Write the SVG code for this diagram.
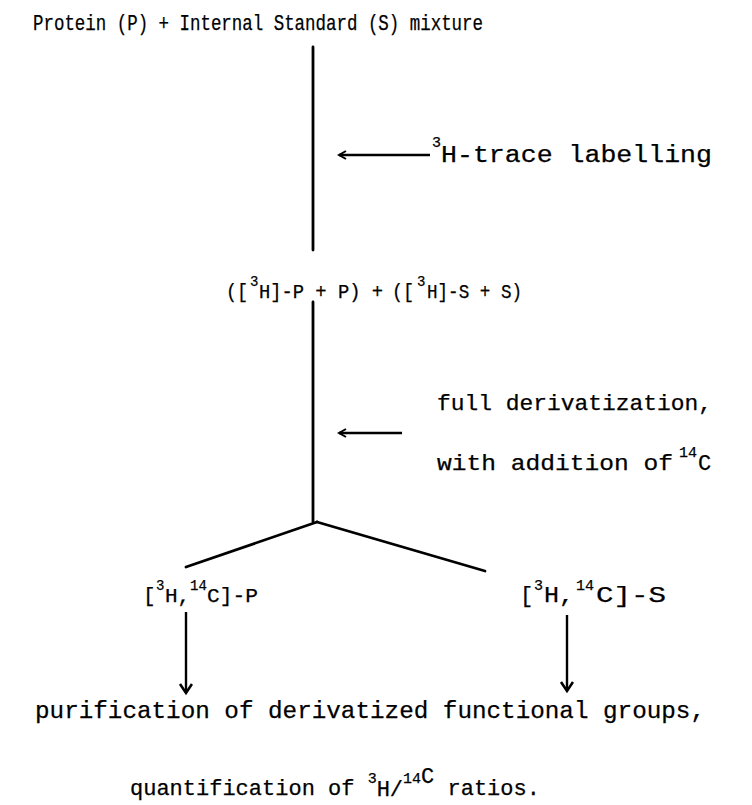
<svg xmlns="http://www.w3.org/2000/svg" width="752" height="805" viewBox="0 0 752 805">
<defs>
<style>
text{font-family:"Liberation Mono","DejaVu Sans Mono",monospace;fill:#000;font-size:21px;stroke:#000;stroke-width:0.25}
.sup{font-size:14px}
.ln{stroke:#000;stroke-width:2.8;fill:none;stroke-linecap:round}
.ar{stroke:#000;stroke-width:2.4;fill:none}
</style>
<marker id="ah" markerWidth="14" markerHeight="16" refX="10" refY="7" orient="auto" markerUnits="userSpaceOnUse">
<path d="M1,1 L10,7 L1,13" fill="none" stroke="#000" stroke-width="2.6"/>
</marker>
<marker id="ah2" markerWidth="12" markerHeight="12" refX="9" refY="5" orient="auto" markerUnits="userSpaceOnUse">
<path d="M2,1 L9,5 L2,9" fill="none" stroke="#000" stroke-width="2"/>
</marker>
</defs>
<rect width="752" height="805" fill="#fff"/>
<g id="connectors">
<line class="ln" x1="313" y1="47" x2="313" y2="250"/>
<line class="ar" x1="430" y1="155" x2="339" y2="155" marker-end="url(#ah2)"/>
<line class="ln" x1="313" y1="302" x2="313" y2="522"/>
<line class="ar" x1="402" y1="433" x2="339" y2="433" marker-end="url(#ah2)"/>
<line class="ln" x1="317" y1="522" x2="186" y2="567"/>
<line class="ln" x1="317" y1="522" x2="485" y2="571"/>
<line class="ar" x1="186" y1="612" x2="186" y2="693" marker-end="url(#ah)"/>
<line class="ar" x1="567" y1="615" x2="567" y2="691" marker-end="url(#ah)"/>
</g>
<g id="n-mixture">
<text x="33" y="30" textLength="450" lengthAdjust="spacingAndGlyphs" style="font-size:22px">Protein (P) + Internal Standard (S) mixture</text>
</g>
<g id="n-label1">
<text class="sup" x="432" y="147" style="font-size:15px">3</text>
<text x="441" y="162" textLength="271" lengthAdjust="spacingAndGlyphs" style="font-size:23px">H-trace labelling</text>
</g>
<g id="n-labelled">
<text x="226" y="298" style="font-size:20px"><tspan textLength="22" lengthAdjust="spacingAndGlyphs">([</tspan><tspan class="sup" x="250" dy="-12" style="font-size:14px">3</tspan><tspan x="259" dy="12" textLength="124" lengthAdjust="spacingAndGlyphs">H]-P + P) +</tspan></text>
<text x="392" y="298" style="font-size:20px"><tspan textLength="22" lengthAdjust="spacingAndGlyphs">([</tspan><tspan class="sup" x="417" dy="-12" style="font-size:14px">3</tspan><tspan x="427" dy="12" textLength="95" lengthAdjust="spacingAndGlyphs">H]-S + S)</tspan></text>
</g>
<g id="n-label2">
<text x="437" y="410" textLength="275" lengthAdjust="spacingAndGlyphs" style="font-size:22px">full derivatization,</text>
<text x="437" y="470" textLength="236" lengthAdjust="spacingAndGlyphs" style="font-size:22px">with addition of</text>
<text class="sup" x="679" y="457" style="font-size:15px">14</text>
<text x="698" y="470" style="font-size:22px">C</text>
</g>
<g id="n-P">
<text x="143" y="602">[<tspan class="sup" x="156" dy="-12">3</tspan><tspan x="165" dy="12">H,</tspan><tspan class="sup" x="190" dy="-12">14</tspan><tspan x="207" dy="12" textLength="51" lengthAdjust="spacingAndGlyphs">C]-P</tspan></text>
</g>
<g id="n-S">
<text x="520" y="602" style="font-size:22px">[<tspan class="sup" x="534" dy="-12" style="font-size:15px">3</tspan><tspan x="544" dy="12" textLength="30" lengthAdjust="spacingAndGlyphs">H,</tspan><tspan class="sup" x="576" dy="-12" style="font-size:15px">14</tspan><tspan x="596" dy="12" textLength="70" lengthAdjust="spacingAndGlyphs">C]-S</tspan></text>
</g>
<g id="n-result">
<text x="35" y="718" textLength="670" lengthAdjust="spacingAndGlyphs" style="font-size:24px">purification of derivatized functional groups,</text>
<text x="130" y="795" style="font-size:22px">quantification of <tspan class="sup" dy="-12" style="font-size:15px">3</tspan><tspan dy="13">H/</tspan><tspan class="sup" dy="-13" style="font-size:15px">14</tspan><tspan>C</tspan><tspan dy="12"> ratios.</tspan></text>
</g>
</svg>
